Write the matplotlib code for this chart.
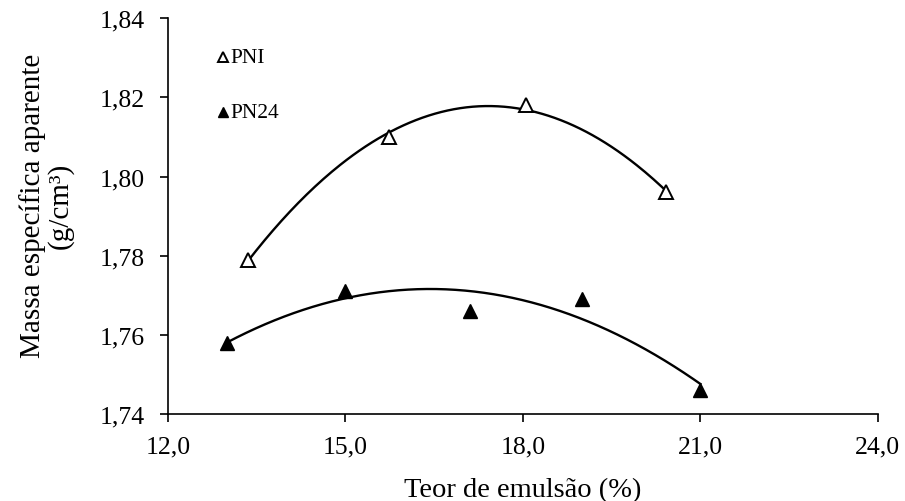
import numpy as np
import matplotlib
matplotlib.use("Agg")
import matplotlib.pyplot as plt
from matplotlib.ticker import FuncFormatter

plt.rcParams['font.family'] = ['Liberation Serif', 'DejaVu Serif']

# teor de emulsão (%) x massa específica aparente (g/cm³)
pni_x = [13.35, 15.74, 18.06, 20.42]
pni_y = [1.779, 1.810, 1.818, 1.796]
pn24_x = [13.0, 15.0, 17.1, 19.0, 21.0]
pn24_y = [1.758, 1.771, 1.766, 1.769, 1.746]

x_ticks = [12.0, 15.0, 18.0, 21.0, 24.0]
y_ticks = [1.74, 1.76, 1.78, 1.80, 1.82, 1.84]


def trend(x, y, n=200):
    # polynomial trendline of 2nd order over the data range
    c = np.polyfit(x, y, 2)
    xs = np.linspace(min(x), max(x), n)
    return xs, np.polyval(c, xs)


fig = plt.figure(figsize=(9.05, 5.02), dpi=100)
ax = fig.add_axes([0.1856, 0.1733, 0.7844, 0.7883])

xs, ys = trend(pni_x, pni_y)
ax.plot(xs, ys, color='black', lw=1.7)
xs, ys = trend(pn24_x, pn24_y)
ax.plot(xs, ys, color='black', lw=1.7)

ax.plot(pni_x, pni_y, ls='none', marker='^', ms=10, mfc='white', mec='black', mew=1.4, zorder=3)
ax.plot(pn24_x, pn24_y, ls='none', marker='^', ms=10, mfc='black', mec='black', zorder=3)

# legend as text with markers
ax.plot([12.93], [1.8302], ls='none', marker='^', ms=7.5, mfc='white', mec='black', mew=1.4)
ax.plot([12.93], [1.8163], ls='none', marker='^', ms=7.5, mfc='black', mec='black')
ax.text(13.05, 1.8302, 'PNI', fontsize=15.5, va='center', ha='left')
ax.text(13.05, 1.8163, 'PN24', fontsize=15.5, va='center', ha='left')

ax.set_xlim(12, 24)
ax.set_ylim(1.74, 1.84)
ax.set_xticks(x_ticks)
ax.set_yticks(y_ticks)
ax.xaxis.set_major_formatter(FuncFormatter(lambda v, p: f'{v:.1f}'.replace('.', ',')))
ax.yaxis.set_major_formatter(FuncFormatter(lambda v, p: f'{v:.2f}'.replace('.', ',')))
ax.tick_params(direction='out', length=5.5, width=1.2, labelsize=18.5)
ax.tick_params(axis='x', pad=10)
ax.tick_params(axis='y', pad=11)

for s in ['top', 'right']:
    ax.spines[s].set_visible(False)
for s in ['left', 'bottom']:
    ax.spines[s].set_linewidth(1.2)

ax.set_xlabel('Teor de emulsão (%)', fontsize=20.5, labelpad=14)
fig.text(46 / 905, 0.5906, 'Massa específica aparente\n(g/cm³)', fontsize=21,
         rotation=90, ha='center', va='center', multialignment='center', linespacing=1.05)

fig.savefig('out.png', dpi=100)
